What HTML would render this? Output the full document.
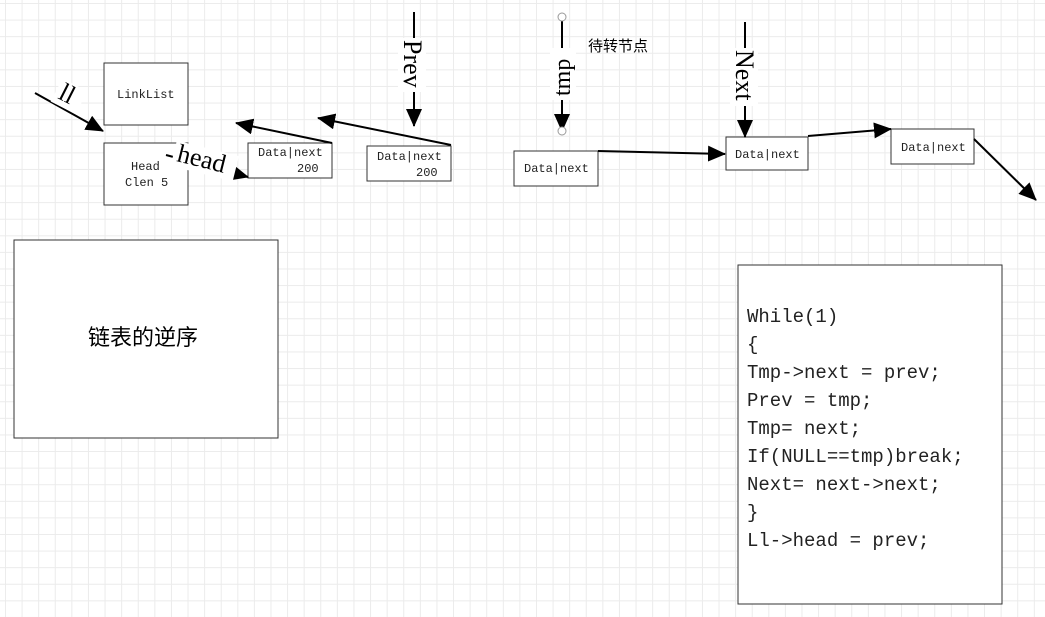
<!DOCTYPE html>
<html><head><meta charset="utf-8"><style>
html,body{margin:0;padding:0;background:#fff;}
#c{position:relative;width:1045px;height:617px;overflow:hidden;
background-color:#fff;
background-image:linear-gradient(to right,#ebebeb 1px,transparent 1px),linear-gradient(to bottom,#ebebeb 1px,transparent 1px);
background-size:16.6px 16.6px;background-position:5px 3px;}
svg{position:absolute;left:0;top:0;}
.m{font-family:"Liberation Mono","Noto Sans CJK SC",monospace;}
.s{font-family:"Liberation Serif",serif;}
.c{font-family:"Liberation Sans","Noto Sans CJK SC",sans-serif;}
</style></head><body><div id="c">
<svg width="1045" height="617" viewBox="0 0 1045 617">
<defs>
<marker id="b" markerWidth="18" markerHeight="16" refX="17" refY="8" orient="auto" markerUnits="userSpaceOnUse" viewBox="0 0 18 16"><path d="M0,0L18,8L0,16z" fill="#000"/></marker></defs>
<g fill="#fff" stroke="#333" stroke-width="1">
<rect x="104" y="63" width="84" height="62"/>
<rect x="104" y="143" width="84" height="62"/>
<rect x="248" y="143" width="84" height="35"/>
<rect x="367" y="146" width="84" height="35"/>
<rect x="514" y="151" width="84" height="35"/>
<rect x="726" y="137" width="82" height="33"/>
<rect x="891" y="129" width="83" height="35"/>
<rect x="14" y="240" width="264" height="198"/>
<rect x="738" y="265" width="264" height="339"/>
</g>
<g class="m" font-size="12" fill="#222">
<text class="m" x="117" y="98">LinkList</text>
<text class="m" x="131" y="170">Head</text>
<text class="m" x="125" y="186">Clen 5</text>
<text class="m" x="258" y="156">Data|next</text>
<text class="m" x="297" y="172">200</text>
<text class="m" x="377" y="160">Data|next</text>
<text class="m" x="416" y="176">200</text>
<text class="m" x="524" y="172">Data|next</text>
<text class="m" x="735" y="158">Data|next</text>
<text class="m" x="901" y="151">Data|next</text>
</g>
<g stroke="#000" stroke-width="2" fill="none">
<line x1="35" y1="93" x2="103" y2="131" marker-end="url(#b)"/>
<line x1="166" y1="155" x2="248" y2="177" marker-end="url(#b)"/>
<line x1="332" y1="143" x2="236" y2="123" marker-end="url(#b)"/>
<line x1="451" y1="145" x2="318" y2="118" marker-end="url(#b)"/>
<line x1="414" y1="12" x2="414" y2="126" marker-end="url(#b)"/>
<line x1="562" y1="17" x2="562" y2="131" marker-end="url(#b)"/>
<line x1="598" y1="151" x2="725" y2="154" marker-end="url(#b)"/>
<line x1="745" y1="22" x2="745" y2="137" marker-end="url(#b)"/>
<line x1="808" y1="136" x2="891" y2="129" marker-end="url(#b)"/>
<line x1="974" y1="139" x2="1036" y2="200" marker-end="url(#b)"/>
</g>
<circle cx="562" cy="17" r="4" fill="#fff" stroke="#999"/>
<circle cx="562" cy="131" r="4" fill="#fff" stroke="#999"/>
<g font-size="26" fill="#000">
<g transform="translate(57,98) rotate(27)"><rect x="-4" y="-20" width="28" height="26" fill="#fff"/><text class="s" x="0" y="0">ll</text></g>
<g transform="translate(172,160) rotate(14)"><rect x="0" y="-20" width="64" height="26" fill="#fff"/><text class="s" x="4" y="0">head</text></g>
<g transform="translate(404,40) rotate(90)"><rect x="-2" y="-22" width="54" height="28" fill="#fff"/><text class="s" x="0" y="0">Prev</text></g>
<g transform="translate(570,50) rotate(-90)"><rect x="-50" y="-20" width="52" height="26" fill="#fff"/><text class="s" x="-46" y="0" font-size="24">tmp</text></g>
<g transform="translate(736,50) rotate(90)"><rect x="-2" y="-22" width="58" height="28" fill="#fff"/><text class="s" x="0" y="0">Next</text></g>
</g>
<text class="c" x="588" y="51" font-size="15">待转节点</text>
<text class="c" x="88" y="345" font-size="22">链表的逆序</text>
<g font-size="19" fill="#222">
<text class="m" x="747" y="322">While(1)</text>
<text class="m" x="747" y="350">{</text>
<text class="m" x="747" y="378">Tmp-&gt;next = prev;</text>
<text class="m" x="747" y="406">Prev = tmp;</text>
<text class="m" x="747" y="434">Tmp= next;</text>
<text class="m" x="747" y="462">If(NULL==tmp)break;</text>
<text class="m" x="747" y="490">Next= next-&gt;next;</text>
<text class="m" x="747" y="518">}</text>
<text class="m" x="747" y="546">Ll-&gt;head = prev;</text>
</g>
</svg></div></body></html>
